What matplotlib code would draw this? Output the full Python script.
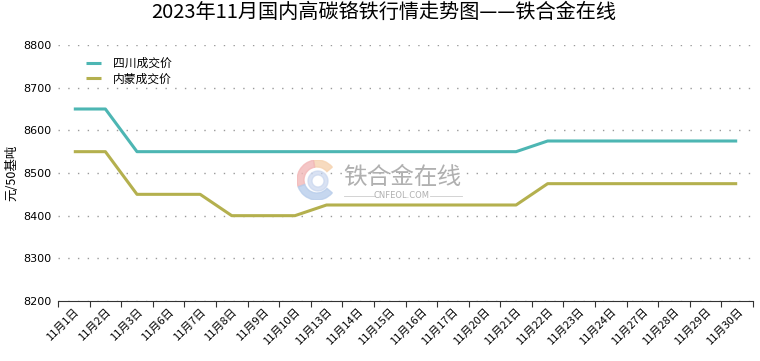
import matplotlib.pyplot as plt
import numpy as np
from matplotlib.patches import Wedge

plt.rcParams["font.family"] = ["Noto Sans CJK SC", "DejaVu Sans"]

# 日付と価格（元/50基吨）
dates = ["11月1日", "11月2日", "11月3日", "11月6日", "11月7日", "11月8日", "11月9日",
         "11月10日", "11月13日", "11月14日", "11月15日", "11月16日", "11月17日",
         "11月20日", "11月21日", "11月22日", "11月23日", "11月24日", "11月27日",
         "11月28日", "11月29日", "11月30日"]
sichuan = [8650, 8650, 8550, 8550, 8550, 8550, 8550, 8550, 8550, 8550, 8550,
           8550, 8550, 8550, 8550, 8575, 8575, 8575, 8575, 8575, 8575, 8575]
neimeng = [8550, 8550, 8450, 8450, 8450, 8400, 8400, 8400, 8425, 8425, 8425,
           8425, 8425, 8425, 8425, 8475, 8475, 8475, 8475, 8475, 8475, 8475]
yticks = [8200, 8300, 8400, 8500, 8600, 8700, 8800]

fig = plt.figure(figsize=(7.6, 3.61), dpi=100)
ax = fig.add_axes([58 / 760, 1 - 301 / 361, 695 / 760, 256 / 361])

x = np.arange(len(dates))
ax.plot(x, sichuan, color="#4DB6B3", lw=2.2, label="四川成交价", solid_capstyle="butt")
ax.plot(x, neimeng, color="#B4B04E", lw=2.2, label="内蒙成交价", solid_capstyle="butt")

ax.set_xlim(-0.5, len(dates) - 0.5)
ax.set_ylim(8200, 8800)
ax.set_yticks(yticks)
ax.set_yticklabels([str(v) for v in yticks], fontsize=8, family="DejaVu Sans")
ax.tick_params(axis="y", length=0, pad=5)

# 目盛りはカテゴリの境界に
ax.set_xticks(np.arange(len(dates) + 1) - 0.5)
ax.set_xticklabels([])
ax.set_xticks(x, minor=True)
ax.set_xticklabels(dates, minor=True, rotation=45, ha="right", va="top",
                   rotation_mode="anchor", fontsize=8)
ax.tick_params(axis="x", which="major", length=4, direction="out", color="#333333")
ax.tick_params(axis="x", which="minor", length=0, pad=4)

for s in ["top", "right", "left"]:
    ax.spines[s].set_visible(False)
ax.spines["bottom"].set_color("#333333")

ax.grid(axis="y", linestyle=(0, (1, 6)), color="#9a9a9a", lw=1.0)
ax.set_axisbelow(True)

ax.set_ylabel("元/50基吨", fontsize=9)
ax.yaxis.set_label_coords((18 - 58) / 695, 0.5)

ax.legend(loc="upper left", bbox_to_anchor=(0.025, 0.995), frameon=False, fontsize=8.5,
          handlelength=1.3, handletextpad=1.0, labelspacing=0.2)

fig.suptitle("2023年11月国内高碳铬铁行情走势图——铁合金在线", fontsize=14.5, x=0.505, y=0.995)

# 透かしロゴ
cx, cy, r = 317 / 760, 1 - 180 / 361, 20 / 361
fig_ratio = 760 / 361
lax = fig.add_axes([cx - r / fig_ratio, cy - r, 2 * r / fig_ratio, 2 * r])
lax.set_xlim(-1, 1)
lax.set_ylim(-1, 1)
lax.set_aspect("equal")
lax.axis("off")
lax.add_patch(Wedge((0, 0), 1, 40, 100, width=0.35, color="#F6D3B0", alpha=0.8))
lax.add_patch(Wedge((0, 0), 1, 100, 200, width=0.35, color="#F2B8B8", alpha=0.8))
lax.add_patch(Wedge((0, 0), 1, 200, 320, width=0.35, color="#B8CDEB", alpha=0.8))
lax.add_patch(Wedge((0.05, -0.05), 0.5, 0, 360, width=0.2, color="#C9D6EE", alpha=0.7))
fig.text(402 / 760, 1 - 177 / 361, "铁合金在线", fontsize=17, color="#b0b0b0",
         ha="center", va="center")
fig.text(402 / 760, 1 - 196 / 361, "CNFEOL.COM", fontsize=6, color="#b0b0b0",
         ha="center", va="center", family="DejaVu Sans")
fig.add_artist(plt.Line2D([344 / 760, 375 / 760], [1 - 196 / 361] * 2, color="#cccccc", lw=0.6))
fig.add_artist(plt.Line2D([430 / 760, 462 / 760], [1 - 196 / 361] * 2, color="#cccccc", lw=0.6))

fig.savefig("out.png", dpi=100)
